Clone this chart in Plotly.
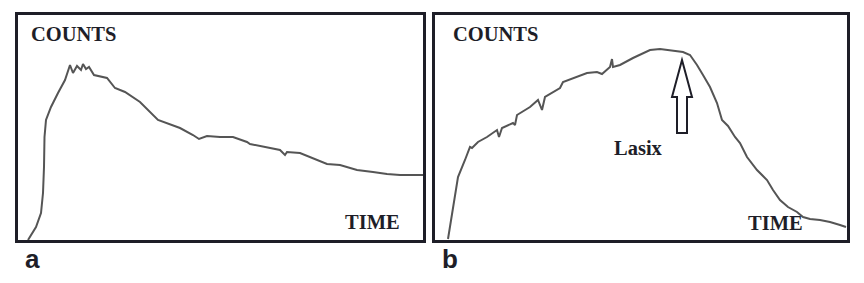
import plotly.graph_objects as go

# ---- data (arbitrary units) ----
time_a = [10, 14, 18, 23, 25, 26, 26.5, 28, 33, 40, 47, 52, 55, 59, 63, 65, 68, 71, 76, 89, 97,
          107, 122, 140, 162, 175, 181, 189, 202, 215, 229, 232, 249, 262, 267, 269, 282, 295,
          309, 322, 339, 355, 369, 382, 405]
counts_a = [0, 6, 13, 27, 47, 73, 103, 120, 133, 147, 160, 175, 167, 174, 170, 176, 171, 173, 165, 162, 152,
            148, 138, 120, 112, 105, 101, 104, 103, 103, 98, 96, 93, 90, 85, 88, 87, 82,
            76, 75, 70, 68, 66, 65, 65]

time_b = [13, 17, 23, 30, 35, 37, 43, 52, 62, 64, 67, 78, 80, 82, 95, 103, 107, 110, 125, 128,
          142, 152, 162, 167, 175, 177, 178, 185, 198, 205, 215, 225, 238, 248, 255, 262, 268,
          275, 282, 287, 293, 300, 305, 312, 322, 332, 338, 345, 353, 362, 368, 375, 385, 395,
          405, 411]
counts_b = [1, 27, 63, 80, 93, 92, 98, 103, 110, 103, 112, 117, 115, 125, 133, 140, 130, 143, 152, 158,
            163, 167, 168, 166, 173, 181, 173, 175, 182, 185, 190, 191, 189, 188, 185, 175, 165,
            153, 137, 120, 114, 103, 97, 83, 70, 60, 50, 40, 33, 28, 23, 21, 20, 18,
            15, 13]

lasix_time = 247      # time of Lasix injection (arrow position)
arrow_tip = 180       # counts level of arrow tip
arrow_base = 107      # counts level of arrow tail
panel_labels = ["a", "b"]

W, H = 864, 283
ink = "#1e1e28"
curve = "#555555"
serif = "Liberation Serif, Times New Roman, serif"

fig = go.Figure()
fig.add_trace(go.Scatter(x=time_a, y=counts_a, mode="lines", xaxis="x", yaxis="y",
                         line=dict(color=curve, width=2), hoverinfo="skip"))
fig.add_trace(go.Scatter(x=time_b, y=counts_b, mode="lines", xaxis="x2", yaxis="y2",
                         line=dict(color=curve, width=2), hoverinfo="skip"))

ax = dict(showline=True, mirror=True, linecolor=ink, linewidth=2.5, showgrid=False,
          zeroline=False, showticklabels=False, ticks="", fixedrange=True)
ydom = [(H - 240) / H, (H - 15) / H]
fig.update_layout(
    width=W, height=H, margin=dict(l=0, r=0, t=0, b=0),
    paper_bgcolor="white", plot_bgcolor="white", showlegend=False,
    xaxis=dict(domain=[18 / W, 423 / W], range=[0, 405], **ax),
    yaxis=dict(domain=ydom, range=[0, 225], **ax),
    xaxis2=dict(domain=[435 / W, 847 / W], range=[0, 412], anchor="y2", **ax),
    yaxis2=dict(domain=ydom, range=[0, 225], anchor="x2", **ax),
)

# hollow arrow for Lasix
hw, sw, head = 10, 5, arrow_tip - 37
path = (f"M {lasix_time},{arrow_tip} L {lasix_time + hw},{head} L {lasix_time + sw},{head} "
        f"L {lasix_time + sw},{arrow_base} L {lasix_time - sw},{arrow_base} "
        f"L {lasix_time - sw},{head} L {lasix_time - hw},{head} Z")
fig.add_shape(type="path", path=path, xref="x2", yref="y2",
              line=dict(color=ink, width=2), fillcolor="white")

tfont = dict(family=serif, size=20.5, color=ink, weight="bold")
anns = [
    dict(text="COUNTS", xref="x domain", yref="y domain", x=0.028, y=0.915),
    dict(text="TIME", xref="x domain", yref="y domain", x=0.802, y=0.082),
    dict(text="COUNTS", xref="x2 domain", yref="y2 domain", x=0.038, y=0.915),
    dict(text="TIME", xref="x2 domain", yref="y2 domain", x=0.754, y=0.076),
    dict(text="Lasix", xref="x2", yref="y2", x=177, y=92),
]
for a in anns:
    fig.add_annotation(showarrow=False, xanchor="left", yanchor="middle", font=tfont, **a)

for lbl, px in zip(panel_labels, [23, 440]):
    fig.add_annotation(text=lbl, xref="paper", yref="paper", x=px / W, y=(H - 259) / H,
                       xanchor="left", yanchor="middle", showarrow=False,
                       font=dict(family="Liberation Sans, Arial, sans-serif", size=26,
                                 color=ink, weight="bold"))

fig.write_html("out.html", config={"displayModeBar": False})
